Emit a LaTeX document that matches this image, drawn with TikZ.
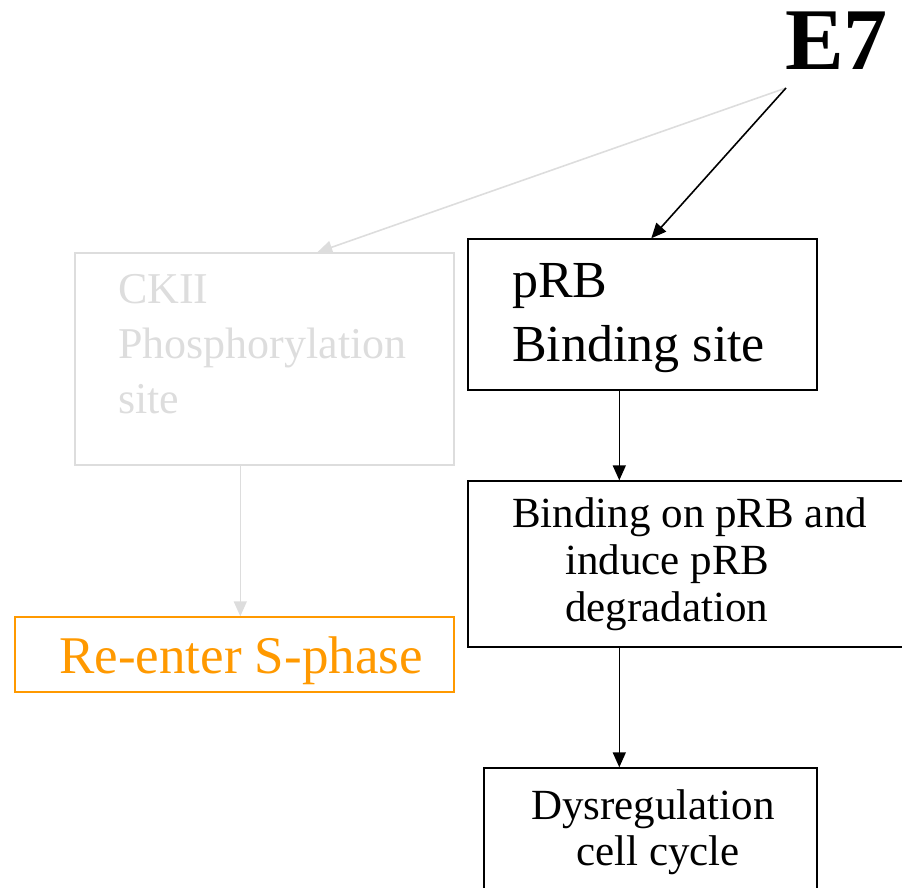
\documentclass[tikz,border=0pt]{standalone}
\usepackage{fontspec}
\setmainfont{Liberation Serif}
\usetikzlibrary{arrows.meta,calc}
\definecolor{fadegray}{HTML}{DDDDDD}
\definecolor{phaseorange}{HTML}{FF9900}

\begin{document}
\begin{tikzpicture}[x=1pt,y=-1pt,
    box/.style={draw,line width=1.4pt,inner sep=0pt},
    txt/.style={inner sep=0pt},
    arr/.style={-{Triangle[length=15pt,width=13pt]},line width=1.6pt}]
  \useasboundingbox (0,0) rectangle (902,888);

  % boxes
  \node[box,minimum width=349pt,minimum height=151pt] (prb) at (642.5,314.5) {};
  \node[box,draw=fadegray,minimum width=379pt,minimum height=212pt] (ckii) at (264.5,359) {};
  \node[box,draw=phaseorange,minimum width=439pt,minimum height=75pt] (phase) at (234.5,654.5) {};
  \node[box,minimum width=444pt,minimum height=166pt] (bind) at (690,564) {};
  \node[box,minimum width=333pt,minimum height=134pt] (dys) at (650.5,835) {};

  % texts
  \node[txt,anchor=base east,font=\fontsize{88}{88}\selectfont\bfseries] (e7) at (888,70) {E7};
  \node[txt,anchor=north west,align=left,font=\fontsize{52}{64}\selectfont] (prbtext) at (512,263) {pRB\\Binding site};
  \node[txt,anchor=north west,align=left,text=fadegray,font=\fontsize{44}{55}\selectfont] (ckiitext) at (118,274) {CKII\\Phosphorylation\\site};
  \node[txt,anchor=north west,text=phaseorange,font=\fontsize{53}{53}\selectfont] (phasetext) at (59,637) {Re-enter S-phase};
  \node[txt,anchor=north west,align=left,font=\fontsize{43}{47}\selectfont] (bindtext) at (512,497) {Binding on pRB and\\\hspace*{53pt}induce pRB\\\hspace*{53pt}degradation};
  \node[txt,anchor=north,align=center,font=\fontsize{43}{46}\selectfont] (dystext) at (653,789) {Dysregulation\\\hspace*{10pt}cell cycle};

  % arrows
  \coordinate (e7src) at (786,88);
  \draw[arr,draw=fadegray,fill=fadegray] (e7src) -- ($(ckii.north west)+(243,0)$);
  \draw[arr] (e7src) -- ($(prb.north west)+(184,0)$);
  \draw[arr] ($(prb.south west)+(152,0)$) -- ($(bind.north west)+(152,0)$);
  \draw[arr] ($(bind.south west)+(152,0)$) -- ($(dys.north west)+(136,0)$);
  \draw[arr,draw=fadegray,fill=fadegray] ($(ckii.south west)+(166,0)$) -- ($(phase.north west)+(226,0)$);
\end{tikzpicture}
\end{document}
